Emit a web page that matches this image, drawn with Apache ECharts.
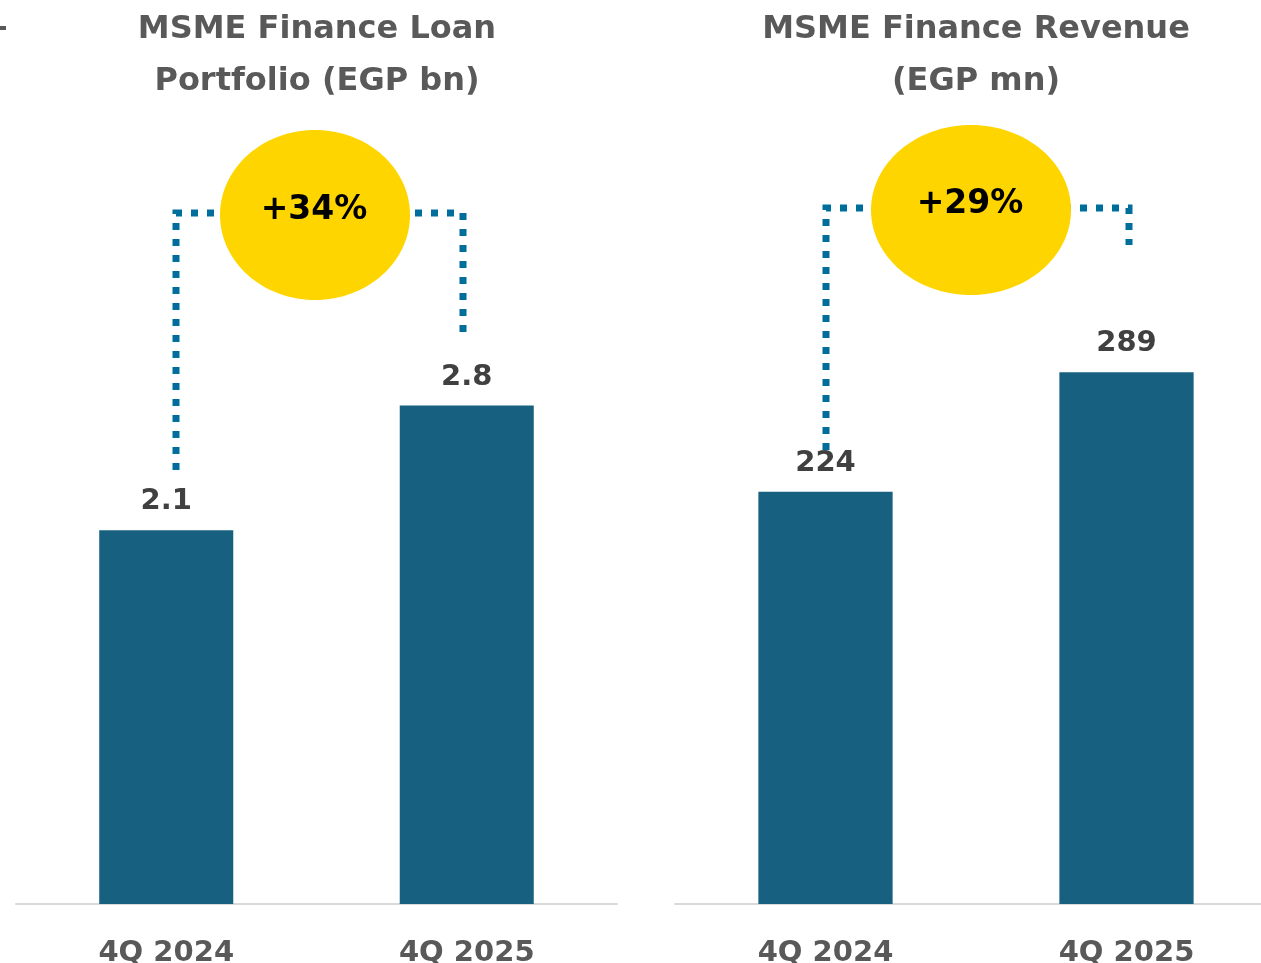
<!DOCTYPE html>
<html>
<head>
<meta charset="utf-8">
<script src="https://cdn.jsdelivr.net/npm/echarts@6/dist/echarts.min.js"></script>
<style>
html,body{margin:0;padding:0;background:#fff;}
#c{width:1261px;height:963px;}
</style>
</head>
<body>
<div id="c"></div>
<script>
const categories = ['4Q 2024', '4Q 2025'];
const loanPortfolio = [2.1, 2.8];
const revenue = [224, 289];
const titles = ['MSME Finance Loan\nPortfolio (EGP bn)', 'MSME Finance Revenue\n(EGP mn)'];
const growth = ['+34%', '+29%'];

const FONT = 'DejaVu Sans';
const BAR = '#17607f';
const DOT = '#006e9b';
const YEL = '#ffd500';
const GREY = '#595959';

const chart = echarts.init(document.getElementById('c'), null, {renderer: 'canvas'});

function xAxis(i) {
  return {
    type: 'category', gridIndex: i, data: categories,
    axisLine: {show: true, lineStyle: {color: '#d9d9d9', width: 2}},
    axisTick: {show: false},
    axisLabel: {color: GREY, fontFamily: FONT, fontWeight: 'bold', fontSize: 29, margin: 35}
  };
}
function yAxis(i, max) {
  return {type: 'value', gridIndex: i, min: 0, max: max, show: false, splitLine: {show: false}};
}
function barSeries(i, data) {
  return {
    type: 'bar', xAxisIndex: i, yAxisIndex: i, data: data, barWidth: '44.6%',
    itemStyle: {color: BAR},
    label: {show: true, position: 'top', distance: 14, color: '#404040', fontFamily: FONT, fontWeight: 'bold', fontSize: 29},
    silent: true
  };
}

const dotStyle = {stroke: DOT, lineWidth: 7, lineDash: [7, 9], fill: null, lineCap: 'butt'};

chart.setOption({
  animation: false,
  title: [
    {text: titles[0], left: 317, top: 4, textAlign: 'center', padding: 0,
     textStyle: {color: GREY, fontFamily: FONT, fontWeight: 'bold', fontSize: 32, lineHeight: 52}},
    {text: titles[1], left: 976, top: 4, textAlign: 'center', padding: 0,
     textStyle: {color: GREY, fontFamily: FONT, fontWeight: 'bold', fontSize: 32, lineHeight: 52}}
  ],
  grid: [
    {left: 16, width: 601, top: 192, bottom: 59, containLabel: false, outerBoundsMode: 'none'},
    {left: 675, width: 602, top: 168, bottom: 59, containLabel: false, outerBoundsMode: 'none'}
  ],
  xAxis: [xAxis(0), xAxis(1)],
  yAxis: [yAxis(0, 4), yAxis(1, 400)],
  series: [barSeries(0, loanPortfolio), barSeries(1, revenue)],
  graphic: [
    {type: 'rect', shape: {x: 0, y: 26, width: 6, height: 4}, style: {fill: GREY}},
    {type: 'polyline', z: 10, shape: {points: [[176, 470], [176, 213], [463, 213], [463, 333]]}, style: dotStyle},
    {type: 'polyline', z: 10, shape: {points: [[826, 450], [826, 208], [1129, 208], [1129, 245]]}, style: dotStyle},
    {type: 'ellipse', z: 20, shape: {cx: 315, cy: 215, rx: 95, ry: 85}, style: {fill: YEL}},
    {type: 'ellipse', z: 20, shape: {cx: 971, cy: 210, rx: 100, ry: 85}, style: {fill: YEL}},
    {type: 'text', z: 30, x: 314, y: 210, style: {text: growth[0], fill: '#000', font: 'bold 33px "DejaVu Sans"', align: 'center', verticalAlign: 'middle'}},
    {type: 'text', z: 30, x: 970, y: 204, style: {text: growth[1], fill: '#000', font: 'bold 33px "DejaVu Sans"', align: 'center', verticalAlign: 'middle'}}
  ]
});
</script>
</body>
</html>
